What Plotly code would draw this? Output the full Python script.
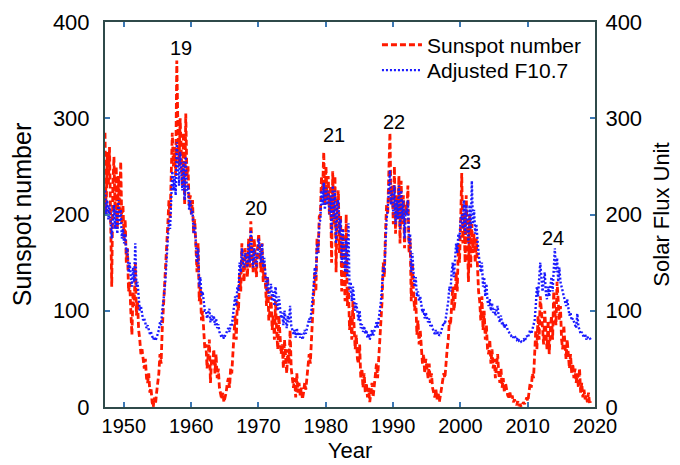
import plotly.graph_objects as go

# ---- data (bimonthly estimates) ----
start_year = 1947.2
step_year = 1.0 / 6.0

sunspot = [
    285, 200, 265, 230, 270, 210,   # 1947.2
    125, 230, 260, 200, 250, 185,   # 1948.2
    240, 200, 255, 190, 210, 175,   # 1949.2
    195, 150, 165, 120, 130, 100,   # 1950.2
    75, 120, 105, 150, 95, 110,     # 1951.2
    80, 70, 55, 60, 45, 40,         # 1952.2
    50, 30, 25, 35, 15, 20,         # 1953.2
    5, 0, 10, 3, 15, 25,            # 1954.2
    35, 55, 45, 80, 100, 120,       # 1955.2
    140, 170, 190, 215, 195, 240,   # 1956.2
    285, 250, 270, 240, 360, 290,   # 1957.2
    250, 300, 270, 230, 285, 210,   # 1958.2
    305, 240, 250, 210, 220, 200,   # 1959.2
    215, 180, 195, 160, 140, 170,   # 1960.2
    110, 125, 90, 100, 70, 60,      # 1961.2
    65, 40, 55, 70, 25, 50,         # 1962.2
    45, 60, 35, 55, 30, 40,         # 1963.2
    20, 12, 8, 15, 5, 10,           # 1964.2
    15, 25, 30, 20, 40, 35,         # 1965.2
    60, 80, 95, 70, 110, 100,       # 1966.2
    140, 120, 170, 145, 130, 165,   # 1967.2
    150, 135, 175, 145, 193, 160,   # 1968.2
    140, 175, 150, 135, 165, 180,   # 1969.2
    160, 140, 170, 130, 150, 120,   # 1970.2
    105, 135, 90, 100, 115, 80,     # 1971.2
    95, 70, 110, 80, 60, 95,        # 1972.2
    75, 55, 65, 40, 70, 50,         # 1973.2
    35, 60, 45, 80, 40, 30,         # 1974.2
    20, 30, 10, 35, 15, 25,         # 1975.2
    12, 20, 8, 15, 25, 18,          # 1976.2
    30, 40, 55, 45, 70, 85,         # 1977.2
    110, 140, 120, 175, 160, 198,   # 1978.2
    200, 240, 225, 265, 210, 250,   # 1979.2
    215, 240, 200, 230, 150, 245,   # 1980.2
    190, 240, 140, 210, 225, 160,   # 1981.2
    200, 120, 185, 150, 110, 200,   # 1982.2
    105, 125, 80, 95, 70, 110,      # 1983.2
    90, 60, 75, 50, 45, 65,         # 1984.2
    30, 40, 20, 35, 15, 25,         # 1985.2
    10, 20, 5, 15, 25, 10,          # 1986.2
    20, 35, 45, 30, 50, 60,         # 1987.2
    90, 110, 150, 135, 180, 210,    # 1988.2
    200, 240, 285, 210, 230, 190,   # 1989.2
    250, 180, 220, 195, 240, 170,   # 1990.2
    235, 190, 220, 165, 210, 200,   # 1991.2
    230, 160, 175, 110, 150, 120,   # 1992.2
    100, 115, 75, 90, 65, 80,       # 1993.2
    60, 45, 55, 35, 50, 40,         # 1994.2
    30, 45, 25, 35, 20, 15,         # 1995.2
    10, 18, 8, 15, 5, 12,           # 1996.2
    20, 25, 35, 30, 50, 60,         # 1997.2
    70, 90, 85, 110, 125, 100,      # 1998.2
    110, 140, 120, 170, 150, 190,   # 1999.2
    243, 170, 200, 150, 220, 175,   # 2000.2
    130, 200, 145, 190, 160, 180,   # 2001.2
    150, 175, 140, 120, 110, 90,    # 2002.2
    115, 80, 100, 70, 85, 60,       # 2003.2
    55, 70, 45, 60, 40, 50,         # 2004.2
    30, 45, 55, 35, 25, 40,         # 2005.2
    20, 30, 15, 25, 18, 12,         # 2006.2
    10, 15, 8, 12, 5, 8,            # 2007.2
    4, 2, 6, 1, 3, 0,               # 2008.2
    2, 5, 3, 8, 10, 6,              # 2009.2
    15, 25, 20, 35, 30, 50,         # 2010.2
    80, 60, 95, 70, 115, 100,       # 2011.2
    85, 65, 100, 75, 60, 90,        # 2012.2
    55, 80, 95, 70, 120, 100,       # 2013.2
    85, 130, 110, 90, 105, 70,      # 2014.2
    60, 85, 65, 50, 70, 55,         # 2015.2
    40, 55, 35, 45, 30, 40,         # 2016.2
    25, 35, 20, 40, 15, 25,         # 2017.2
    10, 18, 8, 12, 5, 15,           # 2018.2
    3, 6,                           # 2019.2
]

f107_adjusted = [
    225, 200, 215, 195, 210, 190,   # 1947.2
    175, 195, 210, 185, 205, 180,   # 1948.2
    215, 190, 205, 175, 185, 170,   # 1949.2
    180, 160, 165, 140, 150, 135,   # 1950.2
    125, 145, 130, 170, 125, 130,   # 1951.2
    110, 100, 105, 95, 90, 92,      # 1952.2
    88, 82, 85, 80, 76, 78,         # 1953.2
    72, 70, 73, 69, 72, 76,         # 1954.2
    80, 88, 85, 100, 108, 120,      # 1955.2
    135, 160, 175, 195, 185, 215,   # 1956.2
    245, 225, 240, 220, 275, 250,   # 1957.2
    230, 265, 250, 225, 255, 215,   # 1958.2
    260, 225, 230, 205, 215, 200,   # 1959.2
    205, 180, 190, 165, 150, 165,   # 1960.2
    125, 135, 115, 120, 105, 100,   # 1961.2
    100, 92, 98, 102, 88, 95,       # 1962.2
    90, 95, 85, 92, 82, 86,         # 1963.2
    78, 74, 72, 75, 71, 74,         # 1964.2
    76, 80, 82, 78, 86, 84,         # 1965.2
    95, 105, 115, 105, 125, 120,    # 1966.2
    150, 140, 165, 150, 145, 160,   # 1967.2
    155, 145, 170, 150, 184, 160,   # 1968.2
    145, 165, 155, 145, 160, 175,   # 1969.2
    165, 150, 170, 145, 155, 135,   # 1970.2
    120, 135, 115, 120, 128, 110,   # 1971.2
    120, 105, 125, 110, 100, 115,   # 1972.2
    105, 92, 98, 85, 100, 90,       # 1973.2
    82, 95, 88, 105, 85, 80,        # 1974.2
    76, 80, 72, 82, 74, 78,         # 1975.2
    72, 76, 70, 74, 80, 76,         # 1976.2
    82, 86, 92, 88, 100, 110,       # 1977.2
    125, 145, 135, 170, 160, 190,   # 1978.2
    195, 225, 210, 233, 205, 228,   # 1979.2
    210, 225, 200, 220, 180, 230,   # 1980.2
    195, 225, 170, 210, 215, 180,   # 1981.2
    195, 150, 185, 160, 140, 175,   # 1982.2
    135, 191, 120, 130, 110, 125,   # 1983.2
    115, 100, 108, 95, 90, 100,     # 1984.2
    82, 86, 78, 84, 76, 80,         # 1985.2
    72, 76, 70, 75, 80, 74,         # 1986.2
    78, 84, 88, 82, 92, 96,         # 1987.2
    110, 125, 145, 140, 170, 195,   # 1988.2
    205, 225, 246, 210, 225, 200,   # 1989.2
    230, 190, 215, 195, 230, 185,   # 1990.2
    225, 195, 215, 175, 205, 200,   # 1991.2
    215, 170, 180, 140, 160, 140,   # 1992.2
    125, 135, 115, 120, 110, 115,   # 1993.2
    105, 98, 102, 92, 98, 94,       # 1994.2
    88, 92, 84, 86, 80, 78,         # 1995.2
    76, 80, 75, 78, 74, 76,         # 1996.2
    80, 84, 88, 86, 95, 105,        # 1997.2
    110, 125, 120, 140, 150, 135,   # 1998.2
    150, 170, 160, 180, 175, 195,   # 1999.2
    200, 185, 215, 180, 210, 195,   # 2000.2
    170, 210, 185, 235, 190, 205,   # 2001.2
    180, 190, 170, 160, 150, 140,   # 2002.2
    150, 125, 135, 115, 128, 110,   # 2003.2
    105, 112, 100, 108, 98, 102,    # 2004.2
    95, 100, 105, 92, 88, 95,       # 2005.2
    85, 88, 82, 86, 84, 80,         # 2006.2
    78, 76, 74, 75, 72, 74,         # 2007.2
    71, 70, 72, 69, 70, 68,         # 2008.2
    69, 70, 68, 72, 74, 72,         # 2009.2
    78, 80, 76, 82, 85, 90,         # 2010.2
    105, 125, 115, 130, 150, 135,   # 2011.2
    120, 130, 140, 118, 112, 125,   # 2012.2
    115, 125, 135, 120, 150, 165,   # 2013.2
    140, 155, 130, 145, 130, 125,   # 2014.2
    120, 115, 110, 105, 112, 100,   # 2015.2
    95, 98, 90, 92, 88, 86,         # 2016.2
    82, 97, 84, 80, 76, 78,         # 2017.2
    74, 72, 76, 70, 73, 71,         # 2018.2
    72, 70,                         # 2019.2
]

cycle_labels = ["19", "20", "21", "22", "23", "24"]
cycle_label_year = [1958.5, 1969.7, 1981.2, 1990.2, 2001.4, 2013.8]
cycle_label_value = [373, 207, 283, 296, 255, 176]

x_ticks = [1950, 1960, 1970, 1980, 1990, 2000, 2010, 2020]
y_ticks = [0, 100, 200, 300, 400]

# ---- build ----
years_ss = [start_year + i * step_year for i in range(len(sunspot))]
years_f = [start_year + i * step_year for i in range(len(f107_adjusted))]

FONT = "Liberation Sans, Arial, sans-serif"
AXIS_COLOR = "#2f4a4a"
TICK_COLOR = "#3c78b4"

fig = go.Figure()
fig.add_trace(go.Scatter(
    x=years_ss, y=sunspot, mode="lines", name="Sunspot number",
    line=dict(color="#ff1a00", width=2.8, dash="6px,3px"),
    yaxis="y", legend="legend",
))
fig.add_trace(go.Scatter(
    x=years_f, y=f107_adjusted, mode="lines", name="Adjusted F10.7",
    line=dict(color="#1a1aff", width=2.4, dash="2px,2px"),
    yaxis="y2", legend="legend2",
))

for lab, xv, yv in zip(cycle_labels, cycle_label_year, cycle_label_value):
    fig.add_annotation(x=xv, y=yv, text=lab, showarrow=False,
                       xref="x", yref="y",
                       font=dict(family=FONT, size=20, color="black"))

axis_common = dict(
    showline=True, linecolor=AXIS_COLOR, linewidth=2,
    ticks="inside", ticklen=5, tickwidth=1.5, tickcolor=TICK_COLOR,
    showgrid=False, zeroline=False, automargin=False,
)

legend_common = dict(
    xanchor="left", yanchor="middle",
    bgcolor="rgba(0,0,0,0)", borderwidth=0,
    font=dict(family=FONT, size=21, color="black"),
    itemwidth=40,
)

# The page body adds an 8px offset, so the figure is sized 672x457.
fig.update_layout(
    width=672, height=457,
    margin=dict(l=97, r=85, t=14, b=58),
    paper_bgcolor="white", plot_bgcolor="white",
    font=dict(family=FONT, color="black"),
    xaxis=dict(range=[1947.2, 2020.0], tickvals=x_ticks, mirror="ticks",
               tickfont=dict(family=FONT, size=20, color="black"),
               title=dict(text="Year", font=dict(family=FONT, size=22), standoff=7),
               **axis_common),
    yaxis=dict(range=[0, 400], tickvals=y_ticks, ticklabelstandoff=9,
               tickfont=dict(family=FONT, size=22, color="black"),
               title=dict(text="Sunspot number", font=dict(family=FONT, size=25), standoff=17),
               **axis_common),
    yaxis2=dict(range=[0, 400], tickvals=y_ticks, overlaying="y", side="right",
                ticklabelstandoff=4,
                tickfont=dict(family=FONT, size=22, color="black"),
                title=dict(text="Solar Flux Unit", font=dict(family=FONT, size=22), standoff=12),
                **axis_common),
    legend=dict(x=0.555, y=0.940, **legend_common),
    legend2=dict(x=0.555, y=0.874, **legend_common),
    showlegend=True,
)

fig.write_html("out.html")
